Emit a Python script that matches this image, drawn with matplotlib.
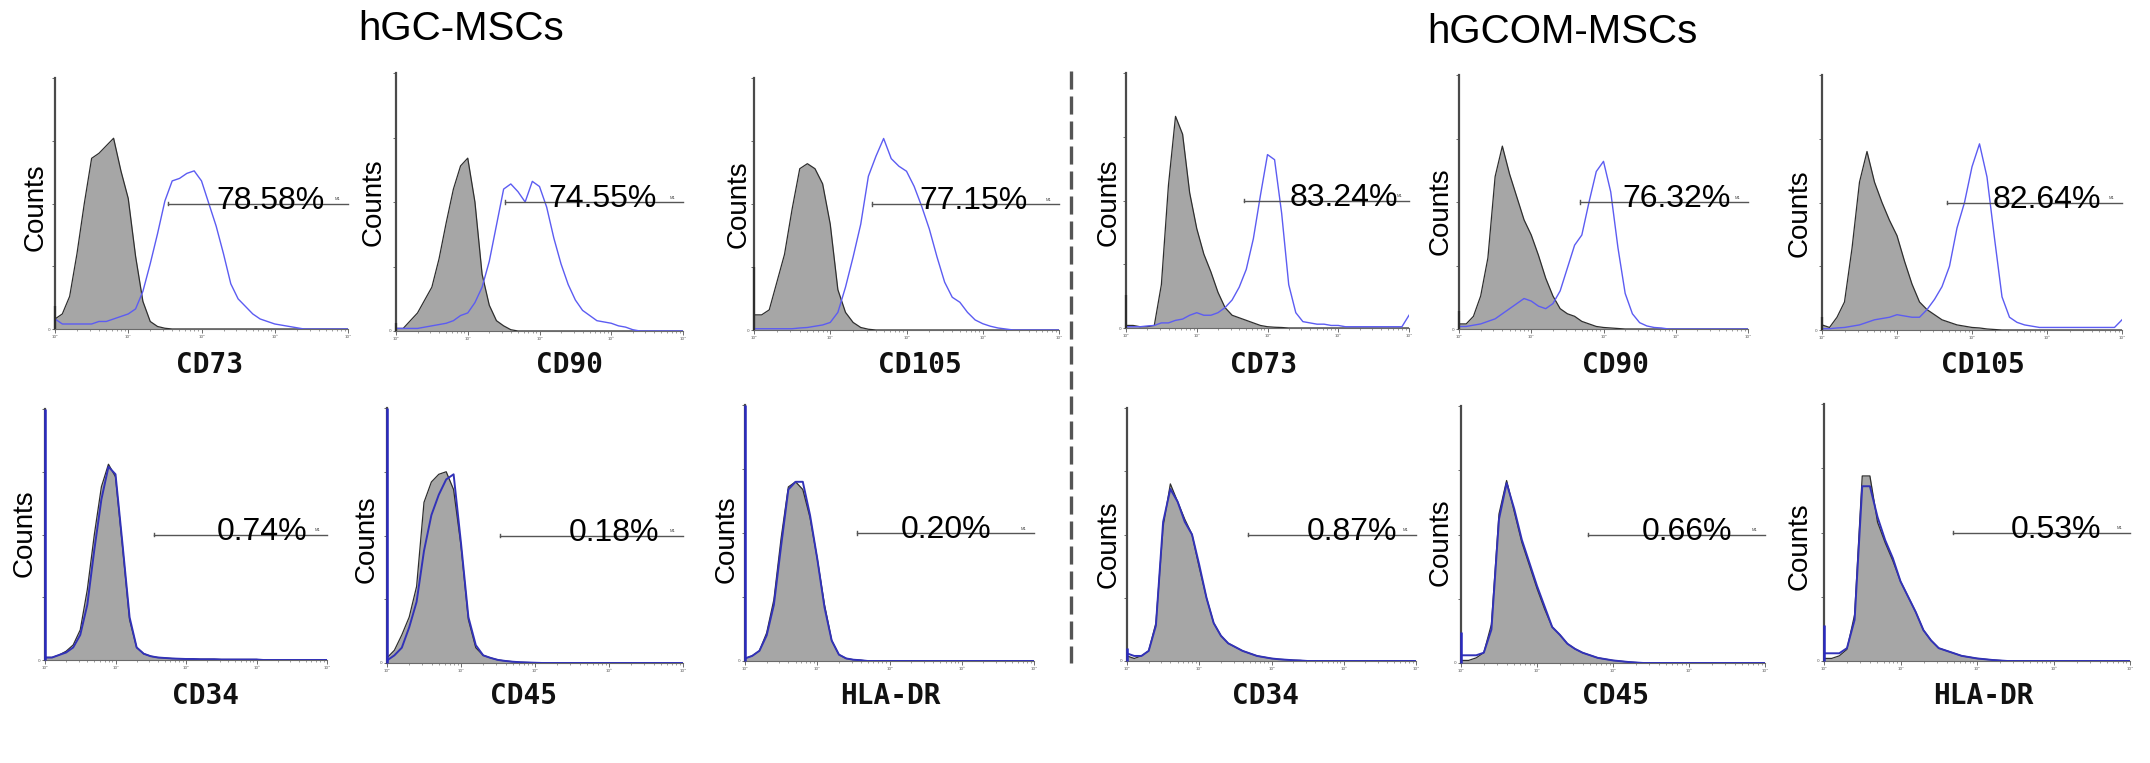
import numpy as np
import matplotlib
matplotlib.use("Agg")
import matplotlib.pyplot as plt
from matplotlib.lines import Line2D
from matplotlib.ticker import LogLocator, NullFormatter, FixedLocator, FixedFormatter

# ---------------- data ----------------
# channel axis: log10 fluorescence, 0.0 ... 4.0 in 0.1-decade bins
log_channel = np.linspace(0.0, 4.0, 41)

groups = ["hGC-MSCs", "hGCOM-MSCs"]
markers = ["CD73", "CD90", "CD105", "CD34", "CD45", "HLA-DR"]
pct_gc = ["78.58%", "74.55%", "77.15%", "0.74%", "0.18%", "0.20%"]
pct_om = ["83.24%", "76.32%", "82.64%", "0.87%", "0.66%", "0.53%"]

# counts as % of axis height; iso = isotype control (grey fill), mk = marker (blue line)
iso_gc_cd73 = [4, 6, 13, 30, 50, 68, 70, 73, 76, 63, 52, 29, 11, 3, 1, 0.3, 0, 0, 0, 0, 0, 0, 0, 0, 0, 0, 0, 0, 0, 0, 0, 0, 0, 0, 0, 0, 0, 0, 0, 0, 0]
mk_gc_cd73 = [4, 2, 2, 2, 2, 2, 3, 3, 4, 5, 6, 8, 15, 26, 38, 51, 59, 60, 62, 63, 59, 50, 41, 30, 18, 12, 9, 6, 4, 3, 2, 1.5, 1, 0.5, 0, 0, 0, 0, 0, 0, 0]
iso_gc_cd90 = [1, 1, 4, 7, 12, 17, 28, 42, 55, 64, 67, 50, 22, 10, 4, 2, 0.5, 0, 0, 0, 0, 0, 0, 0, 0, 0, 0, 0, 0, 0, 0, 0, 0, 0, 0, 0, 0, 0, 0, 0, 0]
mk_gc_cd90 = [1, 1, 1, 1, 1.5, 2, 2.5, 3, 4, 6, 7, 11, 17, 27, 41, 55, 57, 54, 50, 58, 56, 48, 36, 26, 18, 12, 8, 6, 4, 3.5, 3, 2, 1.5, 0.5, 0, 0, 0, 0, 0, 0, 0]
iso_gc_cd105 = [6, 6, 8, 19, 30, 48, 64, 66, 64, 58, 42, 16, 7, 3, 1, 0.3, 0, 0, 0, 0, 0, 0, 0, 0, 0, 0, 0, 0, 0, 0, 0, 0, 0, 0, 0, 0, 0, 0, 0, 0, 0]
mk_gc_cd105 = [0.5, 0.5, 0.5, 0.5, 0.5, 0.5, 0.8, 1, 1.5, 2, 3, 7, 17, 29, 42, 61, 69, 76, 68, 65, 63, 57, 49, 40, 29, 19, 13, 11, 7, 4, 2.5, 1.5, 0.8, 0.4, 0, 0, 0, 0, 0, 0, 0]
iso_gc_cd34 = [1, 1, 2, 3.5, 6, 12, 28, 50, 69, 78, 73, 45, 16, 5, 2.5, 1.5, 1, 0.8, 0.6, 0.5, 0.4, 0.4, 0.3, 0.3, 0.3, 0.2, 0.2, 0.2, 0.2, 0.2, 0.2, 0, 0, 0, 0, 0, 0, 0, 0, 0, 0]
mk_gc_cd34 = [1, 1, 2, 3, 5, 10, 22, 44, 64, 77, 74, 46, 17, 5, 2.5, 1.5, 1, 0.8, 0.6, 0.5, 0.4, 0.4, 0.3, 0.3, 0.3, 0.2, 0.2, 0.2, 0.2, 0.2, 0.2, 0, 0, 0, 0, 0, 0, 0, 0, 0, 0]
iso_gc_cd45 = [2, 5, 11, 18, 30, 63, 71, 74, 75, 68, 46, 17, 6, 3, 2, 1.2, 0.8, 0.5, 0.3, 0.2, 0.1, 0, 0, 0, 0, 0, 0, 0, 0, 0, 0, 0, 0, 0, 0, 0, 0, 0, 0, 0, 0]
mk_gc_cd45 = [1, 3, 6, 14, 24, 44, 58, 66, 72, 74, 47, 18, 7, 3, 2, 1.2, 0.8, 0.5, 0.3, 0.2, 0.1, 0, 0, 0, 0, 0, 0, 0, 0, 0, 0, 0, 0, 0, 0, 0, 0, 0, 0, 0, 0]
iso_gc_hladr = [1, 2, 4, 11, 24, 48, 68, 70, 67, 56, 40, 22, 8, 2.5, 1, 0.5, 0.3, 0, 0, 0, 0, 0, 0, 0, 0, 0, 0, 0, 0, 0, 0, 0, 0, 0, 0, 0, 0, 0, 0, 0, 0]
mk_gc_hladr = [1, 2, 4, 10, 22, 45, 67, 70, 70, 57, 40, 21, 8, 2.5, 1, 0.5, 0.3, 0, 0, 0, 0, 0, 0, 0, 0, 0, 0, 0, 0, 0, 0, 0, 0, 0, 0, 0, 0, 0, 0, 0, 0]

iso_om_cd73 = [1, 1, 0.5, 0.5, 1, 17, 56, 83, 76, 53, 39, 29, 22, 14, 8, 5, 4, 3, 2, 1, 0.5, 0.3, 0.2, 0, 0, 0, 0, 0, 0, 0, 0, 0, 0, 0, 0, 0, 0, 0, 0, 0, 0]
mk_om_cd73 = [0.5, 0.5, 0.5, 0.8, 1, 2, 2, 3, 3.5, 5, 6, 5, 5, 6, 8, 11, 16, 23, 35, 52, 68, 66, 45, 17, 6, 2.5, 2, 1.5, 1.5, 1, 1, 0.5, 0.5, 0.5, 0.5, 0.5, 0.5, 0.5, 0.5, 0.5, 5]
iso_om_cd90 = [2, 2, 5, 13, 28, 60, 72, 61, 52, 43, 37, 29, 20, 13, 8, 6, 5, 3, 2, 1, 0.6, 0.4, 0.2, 0, 0, 0, 0, 0, 0, 0, 0, 0, 0, 0, 0, 0, 0, 0, 0, 0, 0]
mk_om_cd90 = [1, 1, 1.5, 2, 3, 4, 6, 8, 10, 12, 11, 9, 8, 10, 15, 24, 33, 37, 50, 62, 66, 54, 32, 14, 6, 2.5, 1.2, 0.6, 0.4, 0, 0, 0, 0, 0, 0, 0, 0, 0, 0, 0, 0]
iso_om_cd105 = [2, 1, 5, 11, 32, 58, 70, 58, 50, 43, 37, 27, 18, 11, 8, 6, 4, 3, 2, 1.5, 1, 0.8, 0.4, 0.2, 0, 0, 0, 0, 0, 0, 0, 0, 0, 0, 0, 0, 0, 0, 0, 0, 0]
mk_om_cd105 = [0.5, 0.5, 0.8, 1, 1.5, 2, 3, 4, 4.5, 5, 6, 5.5, 5, 5, 8, 12, 17, 25, 40, 50, 64, 73, 60, 36, 13, 5, 3, 2, 1.5, 1, 1, 1, 1, 1, 1, 1, 1, 1, 1, 1, 4]
iso_om_cd34 = [2, 1, 2, 4, 15, 53, 70, 63, 56, 50, 37, 25, 15, 10, 7, 5.5, 4, 3, 2, 1.5, 1, 0.7, 0.5, 0.3, 0.2, 0, 0, 0, 0, 0, 0, 0, 0, 0, 0, 0, 0, 0, 0, 0, 0]
mk_om_cd34 = [3, 2, 2, 4, 14, 55, 68, 63, 55, 50, 38, 25, 15, 10, 7, 5.5, 4, 3, 2, 1.5, 1, 0.7, 0.5, 0.3, 0.2, 0, 0, 0, 0, 0, 0, 0, 0, 0, 0, 0, 0, 0, 0, 0, 0]
iso_om_cd45 = [1, 1, 2, 4, 15, 58, 71, 59, 47, 38, 29, 21, 14, 11, 7.5, 5.5, 4, 3, 2, 1.5, 1, 0.7, 0.4, 0.2, 0, 0, 0, 0, 0, 0, 0, 0, 0, 0, 0, 0, 0, 0, 0, 0, 0]
mk_om_cd45 = [3, 3, 3, 4, 13, 56, 70, 60, 48, 39, 30, 22, 14, 11, 7.5, 5.5, 4, 3, 2, 1.5, 1, 0.7, 0.4, 0.2, 0, 0, 0, 0, 0, 0, 0, 0, 0, 0, 0, 0, 0, 0, 0, 0, 0]
iso_om_hladr = [1, 1, 2, 4.5, 18, 72, 72, 54, 46, 39, 31, 25, 19, 12, 8, 5, 4, 3, 2, 1.5, 1, 0.7, 0.4, 0.2, 0, 0, 0, 0, 0, 0, 0, 0, 0, 0, 0, 0, 0, 0, 0, 0, 0]
mk_om_hladr = [3, 3, 3, 5, 16, 68, 68, 56, 47, 40, 31, 25, 19, 12, 8, 5, 4, 3, 2, 1.5, 1, 0.7, 0.4, 0.2, 0, 0, 0, 0, 0, 0, 0, 0, 0, 0, 0, 0, 0, 0, 0, 0, 0]

# counts piled in the first channel (drawn as a spike on the y axis)
spike_iso_gc = [9, 3, 25, 0, 0, 0]
spike_mk_gc = [0, 0, 0, 100, 100, 100]
spike_iso_om = [13, 7, 5, 0, 0, 0]
spike_mk_om = [0, 0, 0, 5, 12, 14]

# M1 gate start (log10 units); gate ends at 10^4, at half height
gate_gc = [1.54, 1.52, 1.55, 1.55, 1.53, 1.55]
gate_om = [1.67, 1.67, 1.67, 1.67, 1.67, 1.68]

iso_gc = [iso_gc_cd73, iso_gc_cd90, iso_gc_cd105, iso_gc_cd34, iso_gc_cd45, iso_gc_hladr]
mk_gc = [mk_gc_cd73, mk_gc_cd90, mk_gc_cd105, mk_gc_cd34, mk_gc_cd45, mk_gc_hladr]
iso_om = [iso_om_cd73, iso_om_cd90, iso_om_cd105, iso_om_cd34, iso_om_cd45, iso_om_hladr]
mk_om = [mk_om_cd73, mk_om_cd90, mk_om_cd105, mk_om_cd34, mk_om_cd45, mk_om_hladr]
for arr in iso_gc + mk_gc + iso_om + mk_om:
    assert len(arr) == 41

# ---------------- layout (pixels) ----------------
W, H = 2150, 763
# axes rect (left, top, right, bottom), x-label centre, Counts centre, percent text left (log units)
layout_gc = [
    ((55, 78, 348, 329), (209, 365), (36, 207), 2.20),
    ((396, 73, 683, 331), (570, 365), (374, 202), 2.13),
    ((754, 78, 1059, 330), (920, 365), (739, 204), 2.17),
    ((45, 409, 327, 660), (205, 696), (25, 533), 2.44),
    ((387, 408, 683, 663), (524, 696), (367, 539), 2.45),
    ((745, 405, 1034, 661), (890, 696), (727, 539), 2.15),
]
layout_om = [
    ((1126, 73, 1409, 328), (1264, 365), (1109, 202), 2.31),
    ((1459, 75, 1748, 329), (1615, 365), (1441, 211), 2.26),
    ((1822, 75, 2122, 330), (1983, 365), (1800, 213), 2.27),
    ((1127, 408, 1416, 661), (1265, 696), (1109, 544), 2.49),
    ((1461, 406, 1765, 663), (1615, 696), (1441, 542), 2.38),
    ((1824, 404, 2130, 661), (1983, 696), (1800, 546), 2.44),
]

plt.rcParams["lines.scale_dashes"] = False
SANS = "Liberation Sans"
fig = plt.figure(figsize=(W / 100, H / 100), dpi=100)
fig.patch.set_facecolor("white")


def fx(px):
    return px / W


def fy(py):
    return 1 - py / H


x_vals = 10 ** log_channel


def draw_panel(lay, iso, mk, s_iso, s_mk, gate, pct, marker, row):
    (l, t, r, b), lab_c, cnt_c, txt_x = lay
    ax = fig.add_axes([fx(l), fy(b), fx(r) - fx(l), fy(t) - fy(b)])
    ax.set_xscale("log")
    ax.set_xlim(1, 1e4)
    ax.set_ylim(0, 100)
    ax.set_facecolor("none")
    for s in ("top", "right"):
        ax.spines[s].set_visible(False)
    ax.spines["left"].set_color("#4a4a4a")
    ax.spines["left"].set_linewidth(1.6)
    ax.spines["bottom"].set_color("#6a6a6a")
    ax.spines["bottom"].set_linewidth(0.8)

    ax.fill_between(x_vals, iso, 0, color="#a6a6a6", linewidth=0, zorder=2)
    ax.plot(x_vals, iso, color="#2e2e2e", lw=0.9, zorder=3)
    if row == 0:
        ax.plot(x_vals, mk, color="#5c5cf2", lw=1.0, zorder=4)
    else:
        ax.plot(x_vals, mk, color="#3232b8", lw=1.4, zorder=4)
    if s_iso:
        ax.vlines(1.0, 0, s_iso, color="#2e2e2e", lw=1.6, zorder=5, clip_on=False)
    if s_mk:
        ax.vlines(1.0, 0, s_mk, color="#2a2ac0", lw=1.8, zorder=5, clip_on=False)

    # M1 gate
    ax.plot([10 ** gate, 1e4], [50, 50], color="#555555", lw=1.0, zorder=6,
            clip_on=False)
    ax.plot([10 ** gate, 10 ** gate], [49.3, 50.7], color="#555555", lw=1.0, zorder=6)
    ax.text(10 ** 3.86, 50.8, "M1", fontsize=3, color="#444444", ha="center",
            va="bottom", family=SANS, zorder=7)
    ax.text(10 ** txt_x, 48.0, pct, fontsize=23, family=SANS, color="black",
            ha="left", va="baseline", zorder=7)

    # ticks
    ax.xaxis.set_major_locator(FixedLocator([1, 10, 100, 1000, 10000]))
    ax.xaxis.set_major_formatter(FixedFormatter(["10\u2070", "10\u00b9", "10\u00b2",
                                                 "10\u00b3", "10\u2074"]))
    ax.xaxis.set_minor_locator(LogLocator(base=10, subs=np.arange(2, 10), numticks=20))
    ax.xaxis.set_minor_formatter(NullFormatter())
    ax.tick_params(axis="x", which="major", length=3, width=0.6, color="#555555",
                   labelsize=3, pad=1, labelcolor="#555555")
    ax.tick_params(axis="x", which="minor", length=1.5, width=0.5, color="#777777")
    ax.yaxis.set_major_locator(FixedLocator([0, 25, 50, 75, 100]))
    ax.set_yticklabels(["0", "", "", "", ""])
    ax.tick_params(axis="y", which="major", length=2.5, width=0.6, color="#555555",
                   labelsize=3, pad=1, labelcolor="#555555")

    fig.text(fx(lab_c[0]), fy(lab_c[1]), marker, fontsize=20, family="DejaVu Sans Mono",
             fontweight="bold", ha="center", va="center", color="#111111")
    fig.text(fx(cnt_c[0]), fy(cnt_c[1]), "Counts", fontsize=20, family=SANS,
             rotation=90, ha="center", va="center", color="black")


for i in range(6):
    row = 0 if i < 3 else 1
    draw_panel(layout_gc[i], iso_gc[i], mk_gc[i], spike_iso_gc[i], spike_mk_gc[i],
               gate_gc[i], pct_gc[i], markers[i], row)
    draw_panel(layout_om[i], iso_om[i], mk_om[i], spike_iso_om[i], spike_mk_om[i],
               gate_om[i], pct_om[i], markers[i], row)

# group titles
fig.text(fx(461), fy(29), groups[0], fontsize=29, family=SANS, ha="center",
         va="center", color="black")
fig.text(fx(1562), fy(32), groups[1], fontsize=29, family=SANS, ha="center",
         va="center", color="black")

# dashed divider
fig.add_artist(Line2D([fx(1071), fx(1071)], [fy(71), fy(663)], color="#555555",
                      lw=2.4, dashes=(13, 5)))

fig.savefig("out.png", dpi=100, facecolor="white")
